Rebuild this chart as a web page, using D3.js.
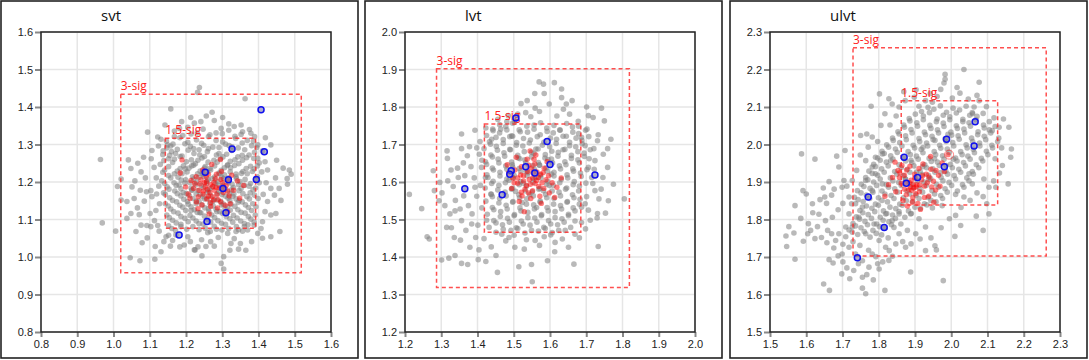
<!DOCTYPE html>
<html>
<head>
<meta charset="utf-8">
<script src="https://cdn.jsdelivr.net/npm/d3@7"></script>
<style>
  body { margin: 0; background: #fff; }
  svg { display: block; font-family: "Liberation Sans", Arial, sans-serif; }
</style>
</head>
<body>
<svg id="chart" width="1089" height="360"></svg>
<script>
// ---- data ----
var panelNames = ["svt", "lvt", "ulvt"];

var svtDomain = [0.8, 1.6];
var lvtDomain = [1.2, 2.0];
var ulvtDomain = [1.5, 2.3];

var svtTicks = [0.8, 0.9, 1.0, 1.1, 1.2, 1.3, 1.4, 1.5, 1.6];
var lvtTicks = [1.2, 1.3, 1.4, 1.5, 1.6, 1.7, 1.8, 1.9, 2.0];
var ulvtTicks = [1.5, 1.6, 1.7, 1.8, 1.9, 2.0, 2.1, 2.2, 2.3];

// sigma boxes: [x0, x1, y0, y1]
var svtSig3 = [1.020, 1.518, 0.958, 1.434];
var svtSig15 = [1.143, 1.392, 1.077, 1.317];
var lvtSig3 = [1.287, 1.819, 1.319, 1.902];
var lvtSig15 = [1.419, 1.685, 1.466, 1.755];
var ulvtSig3 = [1.729, 2.262, 1.703, 2.258];
var ulvtSig15 = [1.862, 2.128, 1.839, 2.117];

var svtGrey = [
  [0.964,1.260],[0.969,1.091],[1.237,1.452],[1.232,1.439],[1.363,1.422],[1.158,1.395],[1.272,1.386],[1.094,1.333],
  [1.006,1.069],[1.046,0.998],[1.073,0.990],[1.114,0.994],[1.304,0.968],[1.297,0.983],[1.459,1.068],[1.490,1.221],
  [1.479,1.209],[1.485,1.232],[1.450,1.258],[1.365,1.018],[1.244,1.003],[1.225,1.019],[1.011,1.188],[1.021,1.208],
  [1.037,1.103],[1.066,1.131],[1.059,1.203],[1.076,1.227],[1.083,1.266],[1.122,1.320],[1.124,1.296],[1.136,1.273],
  [1.103,1.177],[1.106,1.161],[1.057,1.156],[1.085,1.149],[1.101,1.116],[1.117,1.124],[1.092,1.084],[1.103,1.081],
  [1.122,1.084],[1.145,1.054],[1.163,1.044],[1.079,1.038],[1.115,1.028],[1.131,1.014],[1.195,1.032],[1.223,1.019],
  [1.255,1.028],[1.278,1.029],[1.304,1.001],[1.324,1.036],[1.350,1.036],[1.370,1.072],[1.388,1.085],[1.411,1.094],
  [1.434,1.112],[1.448,1.116],[1.425,1.148],[1.444,1.165],[1.434,1.183],[1.457,1.183],[1.480,1.194],[1.425,1.232],
  [1.418,1.254],[1.398,1.263],[1.411,1.283],[1.398,1.299],[1.434,1.299],[1.375,1.340],[1.379,1.330],[1.356,1.334],
  [1.318,1.355],[1.297,1.343],[1.278,1.364],[1.333,1.348],[1.223,1.357],[1.205,1.346],[1.241,1.361],[1.182,1.343],
  [1.168,1.321],[1.149,1.299],[1.160,1.281],[1.048,1.236],[1.067,1.250],[1.041,1.259],[1.021,1.152],[1.037,1.148],
  [1.048,1.116],[1.062,1.068],[1.076,1.085],[1.186,1.081],[1.172,1.059],[1.205,1.054],[1.260,1.065],[1.315,1.063],
  [1.338,1.068],[1.361,1.081],[1.411,1.050],[1.398,1.063],[1.434,1.054],
  [1.104,1.262],[1.112,1.239],[1.118,1.211],[1.125,1.189],[1.119,1.168],[1.127,1.142],[1.113,1.097],[1.126,1.069],
  [1.139,1.041],[1.152,1.058],[1.183,1.027],[1.212,1.041],[1.243,1.046],[1.268,1.041],[1.289,1.052],[1.333,1.049],
  [1.345,1.021],[1.381,1.041],[1.407,1.076],[1.418,1.121],[1.413,1.167],[1.421,1.198],[1.409,1.227],[1.447,1.211],
  [1.462,1.151],[1.468,1.237],[1.419,1.318],[1.389,1.321],[1.352,1.352],[1.301,1.372],[1.256,1.376],[1.213,1.372],
  [1.188,1.361],[1.142,1.352],[1.131,1.314],[1.106,1.284],[1.088,1.211],[1.074,1.178],[1.091,1.174],[1.071,1.113],
  [1.051,1.187],[1.093,1.051],[1.157,1.029],[1.233,1.027],[1.321,1.018]
];

var svtGreyCore = [
  [1.168,1.336],[1.214,1.328],[1.247,1.341],[1.283,1.331],[1.318,1.338],[1.352,1.327],
  [1.146,1.309],[1.183,1.318],[1.229,1.312],[1.262,1.321],[1.301,1.307],[1.337,1.316],[1.369,1.311],
  [1.158,1.296],[1.197,1.302],[1.221,1.289],[1.249,1.298],[1.274,1.293],[1.309,1.301],[1.344,1.291],[1.381,1.297],
  [1.137,1.283],[1.171,1.276],[1.206,1.285],[1.238,1.272],[1.259,1.281],[1.291,1.276],[1.326,1.284],[1.355,1.271],[1.389,1.279],
  [1.152,1.262],[1.184,1.268],[1.215,1.259],[1.244,1.264],[1.277,1.258],[1.302,1.267],[1.335,1.259],[1.367,1.265],
  [1.129,1.247],[1.163,1.252],[1.193,1.243],[1.226,1.249],[1.253,1.241],[1.286,1.253],[1.314,1.244],[1.346,1.249],[1.378,1.242],[1.402,1.251],
  [1.141,1.232],[1.176,1.229],[1.208,1.237],[1.239,1.229],[1.266,1.236],[1.297,1.231],[1.323,1.238],[1.357,1.228],[1.388,1.235],
  [1.152,1.217],[1.189,1.222],[1.218,1.214],[1.247,1.221],[1.279,1.213],[1.306,1.219],[1.338,1.214],[1.369,1.222],[1.397,1.214],
  [1.133,1.203],[1.167,1.198],[1.199,1.206],[1.229,1.199],[1.261,1.207],[1.288,1.201],[1.349,1.201],[1.378,1.196],
  [1.148,1.187],[1.181,1.192],[1.214,1.184],[1.242,1.191],[1.273,1.186],[1.303,1.192],[1.331,1.185],[1.361,1.191],[1.392,1.184],
  [1.138,1.171],[1.169,1.176],[1.201,1.169],[1.233,1.177],[1.258,1.171],[1.291,1.174],[1.319,1.169],[1.346,1.177],[1.377,1.171],
  [1.155,1.158],[1.186,1.163],[1.219,1.156],[1.247,1.161],[1.278,1.154],[1.309,1.162],[1.338,1.155],[1.368,1.161],[1.399,1.156],
  [1.143,1.142],[1.174,1.147],[1.206,1.141],[1.236,1.149],[1.266,1.143],[1.296,1.148],[1.324,1.141],[1.355,1.147],[1.384,1.142],
  [1.158,1.128],[1.191,1.133],[1.223,1.126],[1.252,1.131],[1.283,1.127],[1.314,1.134],[1.343,1.126],[1.372,1.132],
  [1.147,1.112],[1.178,1.117],[1.211,1.111],[1.241,1.118],[1.271,1.112],[1.301,1.116],[1.331,1.111],[1.363,1.117],[1.391,1.112],
  [1.163,1.098],[1.197,1.103],[1.228,1.096],[1.259,1.101],[1.288,1.097],[1.321,1.102],[1.351,1.096],[1.379,1.101],
  [1.152,1.083],[1.186,1.087],[1.219,1.081],[1.247,1.088],[1.278,1.082],[1.309,1.087],[1.339,1.081],[1.371,1.086],
  [1.171,1.071],[1.236,1.073],[1.267,1.068],[1.299,1.072],[1.356,1.069],
  [1.198,1.235],[1.221,1.245],[1.245,1.222],[1.268,1.232],[1.291,1.224],[1.315,1.246],[1.338,1.221],
  [1.187,1.205],[1.211,1.198],[1.235,1.212],[1.258,1.202],[1.281,1.196],[1.304,1.209],[1.327,1.194],
  [1.192,1.172],[1.216,1.178],[1.239,1.166],[1.262,1.176],[1.286,1.169],[1.309,1.181],[1.332,1.168],
  [1.204,1.148],[1.228,1.142],[1.251,1.155],[1.274,1.148],[1.298,1.139],[1.321,1.151],[1.344,1.146],
  [1.214,1.124],[1.238,1.118],[1.262,1.129],[1.285,1.121],[1.308,1.128],
  [1.191,1.324],[1.231,1.331],[1.266,1.326],[1.300,1.329],[1.335,1.322],
  [1.164,1.301],[1.205,1.306],[1.243,1.303],[1.283,1.311],[1.319,1.297],[1.355,1.304],[1.386,1.309],
  [1.147,1.291],[1.176,1.287],[1.212,1.295],[1.236,1.286],[1.262,1.289],[1.291,1.292],[1.327,1.294],[1.362,1.286],[1.395,1.292],
  [1.155,1.271],[1.189,1.269],[1.222,1.276],[1.251,1.268],[1.284,1.272],[1.312,1.274],[1.343,1.267],[1.374,1.272],
  [1.139,1.257],[1.168,1.261],[1.201,1.254],[1.233,1.258],[1.261,1.253],[1.295,1.262],[1.322,1.255],[1.356,1.258],[1.387,1.263],
  [1.152,1.241],[1.184,1.236],[1.216,1.243],[1.251,1.237],[1.279,1.243],[1.306,1.238],[1.334,1.244],[1.366,1.236],[1.397,1.243],
  [1.136,1.226],[1.168,1.222],[1.203,1.227],[1.232,1.222],[1.259,1.227],[1.292,1.222],[1.322,1.227],[1.353,1.223],[1.383,1.228],
  [1.158,1.211],[1.178,1.213],[1.221,1.208],[1.249,1.214],[1.272,1.209],[1.298,1.213],[1.318,1.211],[1.339,1.209],[1.363,1.207],[1.393,1.209],
  [1.141,1.196],[1.173,1.191],[1.197,1.197],[1.226,1.192],[1.257,1.196],[1.289,1.191],[1.317,1.198],[1.345,1.193],[1.374,1.189],[1.402,1.198],
  [1.153,1.181],[1.186,1.182],[1.217,1.179],[1.248,1.184],[1.264,1.181],[1.297,1.183],[1.325,1.179],[1.352,1.183],[1.385,1.179],
  [1.143,1.167],[1.176,1.169],[1.209,1.164],[1.228,1.168],[1.268,1.164],[1.299,1.167],[1.329,1.162],[1.357,1.169],[1.389,1.165],
  [1.163,1.151],[1.194,1.154],[1.228,1.149],[1.259,1.155],[1.286,1.152],[1.316,1.157],[1.347,1.151],[1.375,1.155],
  [1.151,1.136],[1.183,1.138],[1.214,1.134],[1.244,1.139],[1.275,1.136],[1.303,1.141],[1.335,1.135],[1.364,1.139],[1.393,1.134],
  [1.166,1.121],[1.199,1.124],[1.231,1.119],[1.263,1.122],[1.293,1.121],[1.322,1.125],[1.352,1.119],[1.381,1.124],
  [1.154,1.105],[1.186,1.108],[1.219,1.104],[1.251,1.109],[1.279,1.105],[1.311,1.108],[1.341,1.104],[1.372,1.108],
  [1.173,1.091],[1.206,1.094],[1.236,1.089],[1.268,1.093],[1.298,1.090],[1.329,1.093],[1.361,1.089],[1.388,1.093],
  [1.161,1.076],[1.202,1.074],[1.253,1.077],[1.284,1.074],[1.318,1.076],[1.345,1.073]
];

var svtRed = [
  [1.189,1.259],[1.295,1.260],[1.246,1.232],[1.262,1.221],[1.228,1.214],[1.281,1.209],[1.301,1.198],[1.256,1.201],
  [1.238,1.195],[1.274,1.188],[1.292,1.184],[1.311,1.191],[1.221,1.183],[1.248,1.176],[1.266,1.172],[1.285,1.166],
  [1.303,1.172],[1.319,1.163],[1.234,1.161],[1.257,1.155],[1.276,1.152],[1.296,1.147],[1.244,1.139],[1.268,1.135],
  [1.287,1.131],[1.308,1.138],[1.214,1.204],[1.199,1.187],[1.206,1.168],[1.331,1.178],[1.342,1.203],[1.326,1.218],
  [1.271,1.247],[1.253,1.188],[1.279,1.178],[1.262,1.162],[1.229,1.147],[1.315,1.121],[1.264,1.115],[1.348,1.157],
  [1.184,1.224],[1.298,1.228],[1.359,1.191],[1.277,1.199],[1.241,1.207],[1.318,1.205],
  [1.251,1.198],[1.268,1.193],[1.283,1.186],[1.259,1.181],[1.272,1.161],[1.289,1.153],[1.236,1.178],[1.303,1.186],
  [1.315,1.176],[1.224,1.196],[1.247,1.168],[1.296,1.207],[1.284,1.221],[1.256,1.214],[1.268,1.145],[1.211,1.156],
  [1.322,1.142],[1.233,1.129]
];

var svtBlue = [
  [1.407,1.393],[1.327,1.288],[1.416,1.281],[1.253,1.226],[1.317,1.206],
  [1.394,1.207],[1.302,1.183],[1.310,1.118],[1.258,1.095],[1.181,1.059]
];

var lvtGrey = [
  [1.212,1.567],[1.246,1.529],[1.261,1.454],[1.267,1.448],[1.278,1.630],[1.281,1.577],[1.296,1.599],[1.294,1.550],
  [1.301,1.392],[1.321,1.397],[1.338,1.404],[1.316,1.683],[1.317,1.663],[1.356,1.689],[1.356,1.728],[1.345,1.637],
  [1.347,1.612],[1.372,1.670],[1.378,1.694],[1.393,1.738],[1.405,1.674],[1.338,1.523],[1.356,1.497],[1.336,1.452],
  [1.353,1.445],[1.356,1.383],[1.373,1.380],[1.384,1.488],[1.379,1.426],[1.404,1.419],[1.402,1.393],[1.423,1.388],
  [1.455,1.359],[1.514,1.374],[1.549,1.380],[1.551,1.334],[1.593,1.390],[1.613,1.414],[1.666,1.381],[1.733,1.428],
  [1.730,1.504],[1.731,1.516],[1.753,1.517],[1.761,1.550],[1.775,1.594],[1.805,1.555],[1.724,1.577],[1.735,1.555],
  [1.706,1.525],[1.750,1.763],[1.742,1.797],[1.733,1.726],[1.731,1.710],[1.768,1.714],[1.759,1.689],[1.747,1.674],
  [1.701,1.800],[1.706,1.777],[1.719,1.772],[1.661,1.817],[1.645,1.808],[1.632,1.825],[1.637,1.794],[1.632,1.848],
  [1.612,1.865],[1.584,1.836],[1.582,1.861],[1.570,1.867],[1.558,1.836],[1.537,1.817],[1.520,1.809],[1.533,1.785],
  [1.559,1.797],[1.502,1.759],[1.494,1.723],[1.439,1.714],[1.464,1.741],[1.485,1.777],[1.411,1.639],[1.422,1.612],
  [1.467,1.461],[1.487,1.452],[1.503,1.426],[1.529,1.421],[1.559,1.444],[1.584,1.454],[1.614,1.439],[1.669,1.461],
  [1.687,1.492],[1.698,1.475],[1.687,1.533],[1.697,1.542],[1.715,1.612],[1.724,1.657],[1.706,1.639],[1.687,1.719],
  [1.697,1.697],[1.437,1.568],[1.393,1.586],[1.375,1.537],[1.310,1.537],[1.324,1.515],[1.315,1.479],
  [1.302,1.571],[1.318,1.603],[1.333,1.588],[1.327,1.632],[1.361,1.651],[1.365,1.617],[1.382,1.641],[1.391,1.611],
  [1.398,1.562],[1.362,1.563],[1.352,1.528],[1.385,1.515],[1.401,1.485],[1.368,1.471],[1.395,1.452],[1.418,1.449],
  [1.438,1.427],[1.451,1.404],[1.478,1.443],[1.501,1.458],[1.535,1.446],[1.571,1.431],[1.602,1.459],[1.634,1.448],
  [1.651,1.426],[1.681,1.451],[1.711,1.498],[1.701,1.561],[1.718,1.596],[1.722,1.634],[1.708,1.662],[1.721,1.689],
  [1.702,1.741],[1.678,1.762],[1.654,1.781],[1.619,1.776],[1.598,1.808],[1.571,1.788],[1.547,1.774],[1.511,1.781],
  [1.481,1.761],[1.456,1.767],[1.423,1.744],[1.407,1.708],[1.398,1.691],[1.412,1.658],[1.408,1.591],[1.412,1.531],
  [1.425,1.498],[1.746,1.612],[1.759,1.639],[1.741,1.581],[1.328,1.478],[1.339,1.551]
];

var lvtGreyCore = [
  [1.442,1.741],[1.478,1.748],[1.515,1.739],[1.556,1.752],[1.591,1.744],[1.628,1.738],[1.662,1.747],
  [1.425,1.724],[1.461,1.731],[1.497,1.722],[1.538,1.733],[1.573,1.726],[1.609,1.731],[1.645,1.722],[1.679,1.729],
  [1.433,1.707],[1.471,1.713],[1.508,1.705],[1.546,1.712],[1.583,1.706],[1.618,1.714],[1.654,1.706],[1.688,1.711],
  [1.418,1.689],[1.452,1.695],[1.489,1.687],[1.525,1.696],[1.561,1.688],[1.599,1.694],[1.636,1.686],[1.671,1.694],
  [1.437,1.672],[1.473,1.678],[1.511,1.671],[1.549,1.679],[1.587,1.673],[1.623,1.679],[1.659,1.671],[1.694,1.677],
  [1.422,1.654],[1.457,1.661],[1.494,1.653],[1.531,1.659],[1.568,1.652],[1.604,1.661],[1.641,1.654],[1.677,1.659],
  [1.441,1.637],[1.478,1.643],[1.515,1.636],[1.553,1.644],[1.589,1.637],[1.626,1.643],[1.663,1.635],
  [1.426,1.619],[1.462,1.626],[1.501,1.618],[1.539,1.625],[1.574,1.618],[1.611,1.626],[1.647,1.619],[1.684,1.624],
  [1.443,1.602],[1.481,1.608],[1.519,1.601],[1.556,1.609],[1.593,1.602],[1.631,1.607],[1.667,1.601],
  [1.421,1.584],[1.459,1.591],[1.497,1.583],[1.535,1.589],[1.572,1.583],[1.609,1.591],[1.646,1.584],[1.681,1.589],
  [1.438,1.567],[1.476,1.573],[1.514,1.566],[1.551,1.574],[1.588,1.567],[1.625,1.573],[1.662,1.566],
  [1.423,1.549],[1.461,1.556],[1.498,1.548],[1.536,1.555],[1.573,1.549],[1.611,1.556],[1.648,1.548],[1.683,1.554],
  [1.441,1.532],[1.479,1.538],[1.517,1.531],[1.555,1.539],[1.592,1.532],[1.629,1.537],[1.664,1.531],
  [1.427,1.514],[1.464,1.521],[1.502,1.513],[1.539,1.519],[1.577,1.513],[1.614,1.521],[1.651,1.514],
  [1.445,1.497],[1.483,1.503],[1.521,1.496],[1.558,1.504],[1.596,1.497],[1.633,1.502],[1.669,1.496],
  [1.432,1.479],[1.469,1.486],[1.507,1.478],[1.545,1.485],[1.583,1.479],[1.621,1.486],[1.657,1.479],
  [1.451,1.466],[1.492,1.471],[1.531,1.464],[1.568,1.469],[1.606,1.465],[1.642,1.471],
  [1.497,1.640],[1.534,1.628],[1.571,1.645],[1.604,1.621],[1.487,1.605],[1.526,1.597],[1.561,1.612],[1.598,1.591],
  [1.505,1.575],[1.544,1.566],[1.582,1.577],[1.517,1.662],[1.556,1.676],[1.594,1.660],[1.523,1.545],[1.563,1.532],
  [1.461,1.753],[1.497,1.757],[1.536,1.749],[1.574,1.758],[1.611,1.751],[1.646,1.756],[1.679,1.749],
  [1.443,1.737],[1.481,1.739],[1.518,1.734],[1.556,1.741],[1.592,1.735],[1.627,1.739],[1.663,1.733],[1.698,1.738],
  [1.451,1.719],[1.489,1.721],[1.527,1.716],[1.565,1.721],[1.601,1.717],[1.636,1.722],[1.672,1.717],[1.707,1.721],
  [1.436,1.701],[1.471,1.703],[1.507,1.698],[1.543,1.704],[1.579,1.698],[1.617,1.703],[1.654,1.697],[1.689,1.702],
  [1.455,1.685],[1.491,1.686],[1.529,1.681],[1.567,1.688],[1.605,1.682],[1.641,1.687],[1.677,1.681],[1.711,1.686],
  [1.441,1.667],[1.475,1.669],[1.512,1.664],[1.549,1.667],[1.586,1.664],[1.622,1.669],[1.659,1.663],[1.695,1.668],
  [1.425,1.647],[1.459,1.651],[1.496,1.646],[1.533,1.651],[1.571,1.645],[1.607,1.651],[1.644,1.646],[1.681,1.651],
  [1.444,1.632],[1.481,1.634],[1.519,1.629],[1.557,1.634],[1.592,1.629],[1.629,1.635],[1.665,1.629],[1.702,1.633],
  [1.429,1.612],[1.462,1.616],[1.499,1.611],[1.537,1.617],[1.575,1.611],[1.611,1.616],[1.649,1.611],[1.686,1.615],
  [1.439,1.596],[1.477,1.598],[1.515,1.593],[1.553,1.599],[1.591,1.594],[1.627,1.598],[1.664,1.593],[1.699,1.597],
  [1.456,1.579],[1.494,1.581],[1.532,1.576],[1.569,1.581],[1.606,1.576],[1.643,1.581],[1.679,1.576],
  [1.441,1.561],[1.479,1.563],[1.516,1.558],[1.554,1.563],[1.591,1.558],[1.629,1.563],[1.666,1.558],
  [1.459,1.544],[1.497,1.546],[1.535,1.541],[1.573,1.546],[1.610,1.541],[1.647,1.546],[1.681,1.541],
  [1.445,1.526],[1.482,1.528],[1.520,1.523],[1.557,1.528],[1.595,1.523],[1.632,1.528],[1.669,1.523],
  [1.463,1.508],[1.501,1.510],[1.539,1.505],[1.576,1.510],[1.614,1.505],[1.651,1.510],
  [1.451,1.491],[1.488,1.493],[1.526,1.488],[1.564,1.493],[1.602,1.488],[1.639,1.493],
  [1.471,1.474],[1.511,1.476],[1.549,1.471],[1.587,1.476],[1.624,1.471]
];

var lvtRed = [
  [1.503,1.632],[1.519,1.619],[1.538,1.628],[1.552,1.611],[1.527,1.603],[1.511,1.597],[1.546,1.594],[1.563,1.604],
  [1.574,1.621],[1.589,1.606],[1.531,1.581],[1.552,1.577],[1.569,1.588],[1.497,1.611],[1.486,1.624],[1.542,1.645],
  [1.558,1.648],[1.584,1.637],[1.606,1.598],[1.619,1.586],[1.523,1.563],[1.547,1.556],[1.572,1.562],[1.494,1.583],
  [1.515,1.548],[1.561,1.672],[1.537,1.661],[1.598,1.571],[1.631,1.611],[1.482,1.646],[1.576,1.543],[1.529,1.521],
  [1.613,1.559],[1.507,1.666],[1.545,1.683],[1.592,1.654],[1.564,1.627],[1.521,1.641],[1.553,1.625],[1.578,1.598],
  [1.527,1.617],[1.543,1.607],[1.559,1.596],[1.535,1.591],[1.511,1.611],[1.568,1.612],[1.581,1.625],[1.549,1.637],
  [1.521,1.573],[1.541,1.571],[1.596,1.617],[1.501,1.598],[1.583,1.583],[1.556,1.661]
];

var lvtBlue = [
  [1.506,1.771],[1.592,1.708],[1.724,1.619],[1.600,1.647],[1.533,1.641],
  [1.558,1.624],[1.493,1.630],[1.489,1.621],[1.365,1.582],[1.468,1.566]
];

var ulvtGrey = [
  [1.544,1.756],[1.546,1.728],[1.552,1.781],[1.566,1.764],[1.569,1.694],[1.569,1.837],[1.587,1.975],[1.591,1.877],
  [1.600,1.868],[1.592,1.742],[1.604,1.762],[1.612,1.771],[1.624,1.749],[1.624,1.961],[1.635,1.814],[1.647,1.884],
  [1.651,1.860],[1.656,1.843],[1.670,1.865],[1.648,1.628],[1.664,1.611],[1.663,1.693],[1.674,1.684],[1.670,1.762],
  [1.681,1.744],[1.684,1.969],[1.690,1.940],[1.698,1.655],[1.720,1.642],[1.699,1.886],[1.704,1.904],[1.707,1.984],
  [1.718,1.860],[1.750,2.024],[1.767,2.028],[1.782,2.020],[1.779,2.102],[1.802,2.135],[1.755,1.646],[1.764,1.602],
  [1.755,1.617],[1.817,1.611],[1.797,1.682],[1.773,1.673],[1.801,1.668],[1.829,1.717],[1.828,1.691],[1.847,1.735],
  [1.874,1.726],[1.888,1.660],[1.929,1.717],[1.955,1.730],[1.959,1.719],[1.978,1.637],[2.010,1.755],[2.026,1.784],
  [2.088,1.771],[2.069,1.809],[2.098,1.842],[2.104,1.815],[2.133,1.924],[2.141,1.944],[2.164,1.966],[2.166,1.988],
  [2.157,1.895],[2.113,2.037],[2.132,2.046],[2.144,2.068],[2.159,2.046],[2.077,2.166],[2.035,2.200],[1.983,2.187],
  [1.983,2.174],[1.980,2.164],[1.971,2.147],[2.024,2.137],[2.003,2.124],[1.942,2.136],[1.929,2.117],[1.948,2.113],
  [1.898,2.126],[1.911,2.102],[1.873,2.117],[1.856,2.100],[1.828,2.122],[1.837,2.108],[1.817,2.082],[1.806,2.051],
  [2.063,2.100],[2.059,2.082],[2.077,2.117],[2.049,1.922],[2.058,1.895],[2.090,1.908],[2.104,1.886],[2.123,1.886],
  [2.012,1.867],[2.035,1.860],[2.012,1.811],[1.975,1.837],[1.948,1.831],[1.819,1.815],[1.837,1.797],[1.856,1.815],
  [1.764,1.762],[1.787,1.788],[1.801,1.744],[1.819,1.726],[1.745,1.806],[1.727,1.780],[1.736,1.842],[1.755,1.833],
  [1.764,1.904],[1.782,1.877],[1.791,1.922],[1.810,1.895],[1.791,1.966],[1.810,1.975],[1.833,1.957],[1.764,1.957],
  [1.782,1.940],[1.718,1.815],[1.709,1.780],[1.690,1.762],[1.653,1.797],[1.672,1.806],[1.699,1.708],[1.718,1.726],
  [1.736,1.708],[1.782,1.708],[1.755,1.690],[1.856,1.762],[1.879,1.771],[1.902,1.762],[1.911,1.802],[1.888,1.815],
  [1.929,1.780],
  [1.585,1.803],[1.606,1.789],[1.618,1.818],[1.631,1.781],[1.642,1.752],[1.657,1.738],[1.659,1.771],[1.676,1.724],
  [1.688,1.703],[1.701,1.687],[1.712,1.671],[1.731,1.664],[1.744,1.682],[1.767,1.653],[1.785,1.639],[1.792,1.701],
  [1.811,1.687],[1.838,1.702],[1.866,1.741],[1.889,1.735],[1.914,1.748],[1.944,1.751],[1.972,1.778],[1.995,1.802],
  [2.027,1.832],[2.052,1.851],[2.071,1.871],[2.088,1.861],[2.117,1.903],[2.121,1.962],[2.139,1.991],[2.131,2.017],
  [2.118,2.071],[2.097,2.101],[2.071,2.131],[2.047,2.121],[2.016,2.152],[1.961,2.128],[1.903,2.146],[1.869,2.141],
  [1.848,2.076],[1.831,2.052],[1.797,2.008],[1.771,1.993],[1.749,1.972],[1.739,1.931],[1.727,1.904],[1.712,1.889],
  [1.701,1.843],[1.688,1.826],[1.677,1.881],[1.663,1.901],[1.638,1.853],[1.617,1.842],[1.729,1.741],[1.748,1.731],
  [1.701,1.734],[1.772,1.718],[1.826,1.751],[1.842,1.779]
];

var ulvtGreyCore = [
  [1.918,2.088],[1.952,2.094],[1.987,2.086],[2.023,2.092],[2.058,2.085],
  [1.884,2.069],[1.923,2.076],[1.961,2.068],[1.996,2.074],[2.032,2.067],[2.071,2.075],
  [1.869,2.052],[1.905,2.058],[1.941,2.051],[1.978,2.057],[2.014,2.050],[2.049,2.058],[2.089,2.052],
  [1.853,2.034],[1.889,2.040],[1.926,2.033],[1.962,2.039],[1.999,2.033],[2.035,2.041],[2.074,2.034],[2.105,2.039],
  [1.838,2.017],[1.874,2.023],[1.911,2.016],[1.947,2.022],[1.983,2.015],[2.019,2.023],[2.056,2.017],[2.091,2.022],
  [1.822,1.999],[1.858,2.005],[1.895,1.998],[1.932,2.004],[1.968,1.998],[2.004,2.005],[2.041,1.999],[2.078,2.004],[2.112,1.998],
  [1.809,1.982],[1.846,1.988],[1.881,1.981],[1.917,1.987],[1.953,1.981],[1.989,1.988],[2.026,1.981],[2.061,1.987],[2.097,1.982],
  [1.797,1.964],[1.833,1.970],[1.869,1.963],[1.904,1.969],[1.939,1.963],[1.976,1.970],[2.012,1.964],[2.046,1.969],[2.083,1.963],
  [1.786,1.947],[1.821,1.953],[1.856,1.946],[1.891,1.952],[1.927,1.946],[1.962,1.953],[1.998,1.947],[2.034,1.952],[2.069,1.946],
  [1.773,1.929],[1.808,1.935],[1.844,1.928],[1.879,1.934],[1.914,1.928],[1.949,1.935],[1.985,1.929],[2.021,1.934],[2.058,1.928],
  [1.764,1.912],[1.797,1.918],[1.832,1.911],[1.868,1.917],[1.902,1.911],[1.937,1.918],[1.972,1.912],[2.008,1.917],[2.043,1.911],
  [1.752,1.894],[1.786,1.900],[1.821,1.893],[1.855,1.899],[1.889,1.893],[1.925,1.900],[1.959,1.894],[1.994,1.899],[2.031,1.893],
  [1.741,1.877],[1.776,1.883],[1.809,1.876],[1.844,1.882],[1.878,1.876],[1.913,1.883],[1.947,1.877],[1.983,1.882],[2.017,1.876],
  [1.733,1.859],[1.766,1.865],[1.799,1.858],[1.834,1.864],[1.868,1.858],[1.903,1.865],[1.936,1.859],[1.971,1.864],
  [1.725,1.842],[1.757,1.848],[1.791,1.841],[1.824,1.847],[1.858,1.841],[1.893,1.848],[1.926,1.842],[1.958,1.847],
  [1.748,1.824],[1.781,1.830],[1.813,1.823],[1.847,1.829],[1.882,1.823],[1.915,1.830],
  [1.738,1.807],[1.771,1.813],[1.804,1.806],[1.838,1.812],[1.872,1.806],
  [1.729,1.789],[1.762,1.795],[1.794,1.788],[1.828,1.794],[1.861,1.788],
  [1.718,1.772],[1.751,1.778],[1.784,1.771],[1.817,1.777],
  [1.709,1.754],[1.742,1.760],[1.776,1.753],[1.808,1.759],
  [1.889,1.958],[1.921,1.941],[1.954,1.962],[1.986,1.944],[1.904,1.926],[1.938,1.907],[1.971,1.925],[1.874,1.908],
  [1.955,2.011],[1.991,2.027],[1.922,1.992],[2.006,1.961],
  [1.936,2.099],[1.970,2.103],[2.005,2.097],[2.041,2.102],
  [1.901,2.081],[1.940,2.085],[1.978,2.078],[2.014,2.084],[2.051,2.078],[2.088,2.083],
  [1.886,2.063],[1.923,2.066],[1.959,2.061],[1.996,2.066],[2.032,2.061],[2.068,2.066],[2.105,2.061],
  [1.871,2.046],[1.907,2.049],[1.944,2.043],[1.980,2.048],[2.017,2.043],[2.053,2.049],[2.091,2.044],[2.121,2.048],
  [1.856,2.028],[1.892,2.031],[1.929,2.026],[1.965,2.031],[2.001,2.025],[2.037,2.031],[2.073,2.026],[2.109,2.031],
  [1.840,2.011],[1.876,2.013],[1.913,2.008],[1.950,2.013],[1.986,2.008],[2.022,2.014],[2.059,2.008],[2.095,2.013],[2.128,2.008],
  [1.827,1.993],[1.864,1.996],[1.899,1.991],[1.935,1.996],[1.971,1.990],[2.007,1.996],[2.044,1.991],[2.079,1.996],[2.114,1.991],
  [1.815,1.976],[1.851,1.979],[1.887,1.973],[1.922,1.978],[1.957,1.973],[1.994,1.979],[2.030,1.973],[2.064,1.978],[2.101,1.973],
  [1.804,1.958],[1.839,1.961],[1.874,1.956],[1.909,1.961],[1.945,1.955],[1.980,1.961],[2.016,1.956],[2.052,1.961],[2.087,1.956],
  [1.791,1.941],[1.826,1.943],[1.862,1.938],[1.897,1.943],[1.932,1.938],[1.967,1.944],[2.003,1.938],[2.039,1.943],[2.076,1.938],
  [1.782,1.923],[1.815,1.926],[1.850,1.921],[1.886,1.926],[1.920,1.920],[1.955,1.926],[1.990,1.921],[2.026,1.926],[2.061,1.921],
  [1.770,1.906],[1.804,1.908],[1.839,1.903],[1.873,1.908],[1.907,1.903],[1.943,1.909],[1.977,1.903],[2.012,1.908],[2.049,1.903],
  [1.759,1.888],[1.794,1.891],[1.827,1.886],[1.862,1.891],[1.896,1.885],[1.931,1.891],[1.965,1.886],[2.001,1.891],[2.035,1.886],
  [1.751,1.871],[1.784,1.873],[1.817,1.868],[1.852,1.873],[1.886,1.868],[1.921,1.873],[1.954,1.868],[1.989,1.873],
  [1.743,1.853],[1.775,1.856],[1.809,1.851],[1.842,1.856],[1.876,1.850],[1.911,1.856],[1.944,1.851],[1.976,1.856],
  [1.766,1.836],[1.799,1.838],[1.831,1.833],[1.865,1.838],[1.900,1.833],[1.933,1.839],
  [1.756,1.818],[1.789,1.821],[1.822,1.816],[1.856,1.821],[1.890,1.816],
  [1.747,1.801],[1.780,1.803],[1.812,1.798],[1.846,1.803],
  [1.736,1.783],[1.769,1.786],[1.802,1.781],[1.835,1.786],
  [1.727,1.766],[1.760,1.768],[1.793,1.763]
];

var ulvtRed = [
  [1.853,1.931],[1.871,1.918],[1.889,1.905],[1.897,1.884],[1.883,1.879],[1.905,1.893],[1.918,1.906],[1.931,1.921],
  [1.944,1.934],[1.862,1.897],[1.876,1.866],[1.894,1.858],[1.912,1.874],[1.926,1.889],[1.951,1.902],[1.965,1.918],
  [1.838,1.912],[1.847,1.874],[1.867,1.851],[1.908,1.843],[1.938,1.862],[1.957,1.879],[1.975,1.951],[1.922,1.948],
  [1.886,1.942],[1.899,1.921],[1.864,1.944],[1.981,1.928],[1.895,1.894],[1.891,1.878],[1.903,1.887],[1.827,1.893],
  [1.845,1.953],[1.943,1.968],[1.969,1.889],[1.915,1.827],[1.879,1.836],[1.857,1.912],[1.934,1.898],[1.952,1.846],
  [1.817,1.862],[1.991,1.973],[1.926,1.859],[1.874,1.898],
  [1.884,1.898],[1.899,1.911],[1.913,1.892],[1.887,1.887],[1.902,1.869],[1.871,1.881],[1.921,1.917],[1.939,1.913],
  [1.858,1.925],[1.877,1.932],[1.911,1.936],[1.946,1.887],[1.893,1.846],[1.958,1.931]
];

var ulvtBlue = [
  [2.066,2.061],[1.987,2.014],[2.063,1.996],[1.870,1.966],[1.981,1.941],
  [1.907,1.912],[1.876,1.897],[1.771,1.860],[1.815,1.779],[1.741,1.698]
];

var ulvtHollow = [[1.994,1.973]];

// ---- layout ----
var margin = {left: 41, top: 32};
var width = 290, height = 300;
var panelX = [0, 364, 729];

var panels = [
  {name: panelNames[0], domain: svtDomain, ticks: svtTicks, grey: svtGrey.concat(svtGreyCore), red: svtRed, blue: svtBlue, hollow: [], sig3: svtSig3, sig15: svtSig15},
  {name: panelNames[1], domain: lvtDomain, ticks: lvtTicks, grey: lvtGrey.concat(lvtGreyCore), red: lvtRed, blue: lvtBlue, hollow: [], sig3: lvtSig3, sig15: lvtSig15},
  {name: panelNames[2], domain: ulvtDomain, ticks: ulvtTicks, grey: ulvtGrey.concat(ulvtGreyCore), red: ulvtRed, blue: ulvtBlue, hollow: ulvtHollow, sig3: ulvtSig3, sig15: ulvtSig15}
];

var svg = d3.select("#chart");

panels.forEach(function(p, i) {
  var panel = svg.append("g").attr("transform", "translate(" + panelX[i] + ",0)");

  // outer box
  panel.append("rect")
    .attr("x", 1).attr("y", 1)
    .attr("width", 357).attr("height", 357)
    .attr("fill", "none")
    .attr("stroke", "#222")
    .attr("stroke-width", 1.6);

  panel.append("text")
    .attr("x", 101).attr("y", 21)
    .attr("font-family", "'Open Sans', 'Noto Sans', sans-serif")
    .attr("font-size", "15px")
    .attr("fill", "#111")
    .text(p.name);

  var g = panel.append("g")
    .attr("transform", "translate(" + margin.left + "," + margin.top + ")");

  var x = d3.scaleLinear().domain(p.domain).range([0, width]);
  var y = d3.scaleLinear().domain(p.domain).range([height, 0]);

  // grid
  g.append("g").selectAll("line")
    .data(p.ticks).enter().append("line")
      .attr("x1", function(d){ return x(d); }).attr("x2", function(d){ return x(d); })
      .attr("y1", 0).attr("y2", height)
      .attr("stroke", "#e6e6e6").attr("stroke-width", 1.5);
  g.append("g").selectAll("line")
    .data(p.ticks).enter().append("line")
      .attr("y1", function(d){ return y(d); }).attr("y2", function(d){ return y(d); })
      .attr("x1", 0).attr("x2", width)
      .attr("stroke", "#e6e6e6").attr("stroke-width", 1.5);

  // grey cloud
  g.append("g").selectAll("circle")
    .data(p.grey).enter().append("circle")
      .attr("cx", function(d){ return x(d[0]); })
      .attr("cy", function(d){ return y(d[1]); })
      .attr("r", 2.8)
      .attr("fill", "#808080")
      .attr("fill-opacity", 0.55);

  // red cloud
  g.append("g").selectAll("circle")
    .data(p.red).enter().append("circle")
      .attr("cx", function(d){ return x(d[0]); })
      .attr("cy", function(d){ return y(d[1]); })
      .attr("r", 2.7)
      .attr("fill", "#ff0000")
      .attr("fill-opacity", 0.5);

  // sigma boxes
  [[p.sig3, "3-sig"], [p.sig15, "1.5-sig"]].forEach(function(b) {
    var s = b[0];
    g.append("rect")
      .attr("x", x(s[0])).attr("y", y(s[3]))
      .attr("width", x(s[1]) - x(s[0]))
      .attr("height", y(s[2]) - y(s[3]))
      .attr("fill", "none")
      .attr("stroke", "#ff3030")
      .attr("stroke-opacity", 0.85)
      .attr("stroke-width", 1.5)
      .attr("stroke-dasharray", "4,3");
    g.append("text")
      .attr("x", x(s[0])).attr("y", y(s[3]) - 4)
      .attr("font-family", "'Open Sans', 'Noto Sans', sans-serif")
      .attr("font-size", "12px")
      .attr("fill", "#ff2020")
      .text(b[1]);
  });

  // hollow marker
  g.append("g").selectAll("circle")
    .data(p.hollow).enter().append("circle")
      .attr("cx", function(d){ return x(d[0]); })
      .attr("cy", function(d){ return y(d[1]); })
      .attr("r", 4.5)
      .attr("fill", "none")
      .attr("stroke", "#ff3030")
      .attr("stroke-opacity", 0.6)
      .attr("stroke-width", 1);

  // blue samples
  g.append("g").selectAll("circle")
    .data(p.blue).enter().append("circle")
      .attr("cx", function(d){ return x(d[0]); })
      .attr("cy", function(d){ return y(d[1]); })
      .attr("r", 3)
      .attr("fill", "#7a7aa8")
      .attr("fill-opacity", 0.6)
      .attr("stroke", "#1010ee")
      .attr("stroke-width", 1.5);

  // axes
  var xAxisCall = d3.axisBottom(x).tickValues(p.ticks).tickSize(5).tickSizeOuter(0)
                    .tickFormat(d3.format(".1f"));
  var yAxisCall = d3.axisLeft(y).tickValues(p.ticks).tickSize(6).tickSizeOuter(0)
                    .tickFormat(d3.format(".1f"));

  var xa = g.append("g")
    .attr("transform", "translate(0," + height + ")")
    .call(xAxisCall);
  var ya = g.append("g").call(yAxisCall);

  [xa, ya].forEach(function(a) {
    a.select(".domain").remove();
    a.selectAll(".tick line").attr("stroke", "#888").attr("stroke-width", 2);
    a.selectAll(".tick text")
      .attr("fill", "#222")
      .attr("font-size", "11px")
      .attr("font-family", "'Liberation Sans', Arial, sans-serif");
  });
  xa.selectAll(".tick text").attr("dy", "0.95em").attr("y", 6);
  ya.selectAll(".tick text").attr("x", -8);

  // plot frame
  g.append("rect")
    .attr("width", width).attr("height", height)
    .attr("fill", "none")
    .attr("stroke", "#222")
    .attr("stroke-width", 1.5);
});
</script>
</body>
</html>
